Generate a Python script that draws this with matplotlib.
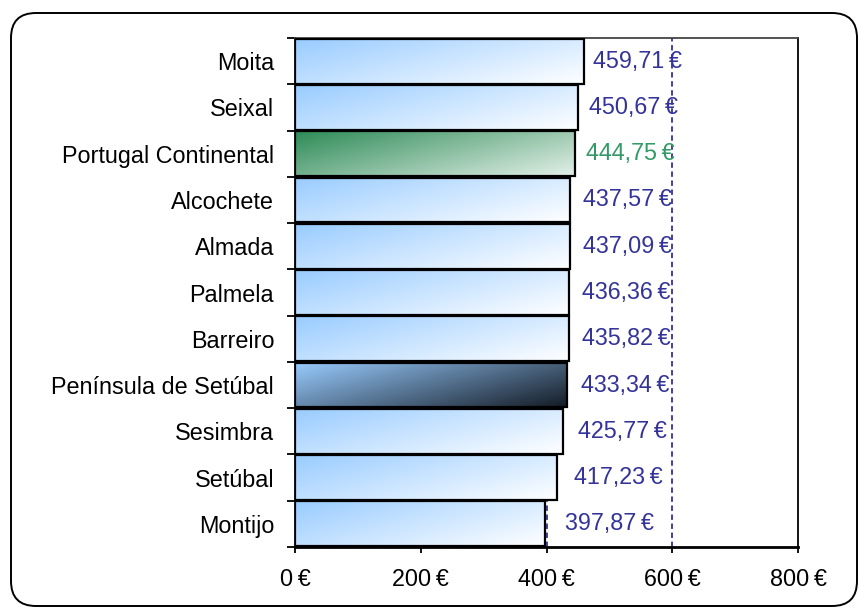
#!/usr/bin/env python3

"""Horizontal bar chart with gradient-filled bars and euro value labels."""

import matplotlib as mpl
import matplotlib.pyplot as plt
import numpy as np
from matplotlib.colors import to_rgb
from matplotlib.patches import FancyBboxPatch

mpl.use("Agg")
plt.rcParams["font.family"] = ["Liberation Sans", "DejaVu Sans"]

# Data, top to bottom
regions = [
    "Moita",
    "Seixal",
    "Portugal Continental",
    "Alcochete",
    "Almada",
    "Palmela",
    "Barreiro",
    "Península de Setúbal",
    "Sesimbra",
    "Setúbal",
    "Montijo",
]
values = [459.71, 450.67, 444.75, 437.57, 437.09, 436.36, 435.82, 433.34, 425.77, 417.23, 397.87]
x_ticks = [0, 200, 400, 600, 800]

# Gradient start/end colours and label colour per bar style
styles = {
    "normal": ("#99ccff", "#ffffff", "#333399"),
    "Portugal Continental": ("#2e8b57", "#e3f0e8", "#339966"),
    "Península de Setúbal": ("#99ccff", "#141c26", "#333399"),
}

FS = 16.8


def euro(v, decimals=2):
    s = f"{v:.{decimals}f}".replace(".", ",")
    return s + "\u2009€"


def gradient(c0, c1, nx=200, ny=40):
    """Diagonal gradient, c0 at the top-left corner, c1 at bottom-right."""
    u = np.linspace(0, 1, nx)[None, :]
    v = np.linspace(0, 1, ny)[:, None]
    t = np.clip(0.62 * u + 0.38 * v, 0, 1)[..., None]
    a = np.array(to_rgb(c0))
    b = np.array(to_rgb(c1))
    return a + (b - a) * t


def main():
    fig = plt.figure(figsize=(8.58, 6.09), dpi=100)
    ax = fig.add_axes([0.3438, 0.1018, 0.5863, 0.8358])

    n = len(regions)
    ys = np.arange(n)[::-1]
    h = 0.97

    # Dashed gridlines behind the bars
    for t in x_ticks[1:-1]:
        ax.axvline(t, color="#333399", lw=1.3, ls=(0, (3, 2)), zorder=0)

    for name, v, y in zip(regions, values, ys):
        c0, c1, lc = styles.get(name, styles["normal"])
        bar = ax.barh(y, v, height=h, facecolor="none", edgecolor="black",
                      linewidth=1.6, zorder=3)[0]
        im = ax.imshow(gradient(c0, c1), extent=(0, v, y - h / 2, y + h / 2),
                       aspect="auto", interpolation="bilinear", zorder=2)
        im.set_clip_path(bar)
        ax.text(0.72 * v + 143, y, euro(v), color=lc, fontsize=FS,
                va="center", ha="left", zorder=4)

    ax.set_xlim(0, 800)
    ax.set_ylim(-0.5, n - 0.5)
    ax.set_aspect("auto")

    ax.set_xticks(x_ticks)
    ax.set_xticklabels([euro(t, 0) for t in x_ticks], fontsize=FS)
    ax.tick_params(axis="x", length=4, width=1.3, pad=11)

    # Ticks between categories, labels centred on the bars
    ax.set_yticks(np.arange(n + 1) - 0.5)
    ax.set_yticklabels([])
    ax.tick_params(axis="y", which="major", length=6, width=1.3)
    ax.set_yticks(ys, minor=True)
    ax.set_yticklabels(regions, minor=True, fontsize=FS)
    ax.tick_params(axis="y", which="minor", length=0, pad=15)

    for side in ["top", "right", "left"]:
        ax.spines[side].set_linewidth(1.3)
    ax.spines["bottom"].set_linewidth(2)
    ax.spines["top"].set_color("#444444")

    border = FancyBboxPatch((0.11, 0.03), 8.46, 5.93,
                            boxstyle="round,pad=0,rounding_size=0.25",
                            transform=fig.dpi_scale_trans, fill=False,
                            edgecolor="black", linewidth=1.4)
    fig.patches.append(border)

    fig.savefig("out.png", dpi=100)


if __name__ == "__main__":
    main()
